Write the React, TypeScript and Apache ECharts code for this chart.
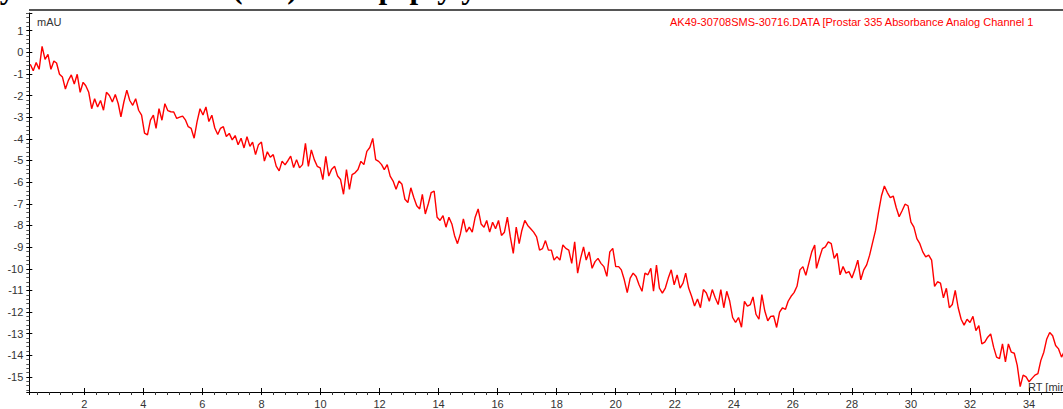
import React, { useEffect, useRef } from "react";
import * as echarts from "echarts";

// Retention time [min] of each read sample
const retentionTime = [
  0.17, 0.27, 0.37, 0.47, 0.57, 0.67, 0.77, 0.87,
  0.97, 1.06, 1.16, 1.26, 1.36, 1.46, 1.56, 1.66, 1.76, 1.86,
  1.96, 2.05, 2.15, 2.25, 2.35, 2.45, 2.55, 2.65, 2.75, 2.85,
  2.95, 3.05, 3.15, 3.24, 3.34, 3.44, 3.54, 3.64, 3.74, 3.84,
  3.94, 4.04, 4.14, 4.24, 4.34, 4.43, 4.53, 4.63, 4.73, 4.83,
  4.93, 5.03, 5.13, 5.23, 5.33, 5.43, 5.52, 5.62, 5.72, 5.82,
  5.92, 6.02, 6.12, 6.22, 6.32, 6.42, 6.52, 6.61, 6.71, 6.81,
  6.91, 7.01, 7.11, 7.21, 7.31, 7.41, 7.51, 7.61, 7.7, 7.8,
  7.9, 8.0, 8.1, 8.2, 8.3, 8.4, 8.5, 8.6, 8.7, 8.8,
  8.9, 8.99, 9.09, 9.19, 9.29, 9.39, 9.49, 9.59, 9.69, 9.79,
  9.89, 9.99, 10.08, 10.18, 10.28, 10.38, 10.48, 10.58, 10.68, 10.78,
  10.88, 10.98, 11.07, 11.17, 11.27, 11.37, 11.47, 11.57, 11.67, 11.77,
  11.87, 11.97, 12.07, 12.16, 12.26, 12.36, 12.46, 12.56, 12.66, 12.76,
  12.86, 12.96, 13.06, 13.16, 13.26, 13.36, 13.45, 13.55, 13.65, 13.75,
  13.85, 13.95, 14.05, 14.15, 14.25, 14.35, 14.45, 14.54, 14.64, 14.74,
  14.84, 14.94, 15.04, 15.14, 15.24, 15.34, 15.44, 15.54, 15.63, 15.73,
  15.83, 15.93, 16.03, 16.13, 16.23, 16.33, 16.43, 16.53, 16.63, 16.73,
  16.82, 16.92, 17.02, 17.12, 17.22, 17.32, 17.42, 17.52, 17.62, 17.72,
  17.82, 17.91, 18.01, 18.11, 18.21, 18.31, 18.41, 18.51, 18.61, 18.71,
  18.81, 18.91, 19.0, 19.1, 19.2, 19.3, 19.4, 19.5, 19.6, 19.7,
  19.8, 19.9, 20.0, 20.1, 20.19, 20.29, 20.39, 20.49, 20.59, 20.69,
  20.79, 20.89, 20.99, 21.09, 21.19, 21.28, 21.38, 21.48, 21.58, 21.68,
  21.78, 21.88, 21.98, 22.08, 22.18, 22.28, 22.37, 22.47, 22.57, 22.67,
  22.77, 22.87, 22.97, 23.07, 23.17, 23.27, 23.37, 23.47, 23.56, 23.66,
  23.76, 23.86, 23.96, 24.06, 24.16, 24.26, 24.36, 24.46, 24.56, 24.65,
  24.75, 24.85, 24.95, 25.05, 25.15, 25.25, 25.35, 25.45, 25.55, 25.65,
  25.75, 25.84, 25.94, 26.04, 26.14, 26.24, 26.34, 26.44, 26.54, 26.64,
  26.74,
  26.8, 26.9, 27.0, 27.1, 27.2, 27.3, 27.4, 27.5, 27.6, 27.7,
  27.8, 27.9, 28.0, 28.1, 28.2, 28.3, 28.4, 28.5, 28.6, 28.7,
  28.8, 28.9, 29.0, 29.1, 29.2, 29.3, 29.4, 29.5, 29.6, 29.7,
  29.8, 29.9, 30.0, 30.1, 30.2, 30.3, 30.4, 30.5, 30.6, 30.7,
  30.8, 30.9, 31.0, 31.1, 31.2, 31.3, 31.4, 31.5, 31.6, 31.7,
  31.8, 31.9, 32.0, 32.1, 32.2, 32.3, 32.4, 32.5, 32.6, 32.7,
  32.8, 32.9, 33.0, 33.1, 33.2, 33.3, 33.4, 33.5, 33.6, 33.7,
  33.8, 33.9, 34.0, 34.1, 34.2, 34.3, 34.4, 34.5, 34.6, 34.7,
  34.8, 34.9, 35.0, 35.1, 35.2,
];

// Absorbance [mAU] read at each retention time
const absorbance = [
  -0.56, -0.86, -0.48, -0.79, 0.27, -0.33, -0.1, -0.79,
  -0.41, -0.5, -1.02, -1.15, -1.7, -1.3, -1.05, -1.47, -1.02, -1.85,
  -1.39, -1.55, -1.85, -2.61, -2.15, -2.53, -2.23, -2.68, -1.85, -2.0,
  -2.3, -1.95, -2.38, -2.98, -2.3, -1.75, -2.23, -2.45, -2.15, -2.68,
  -2.91, -3.74, -3.82, -3.14, -2.91, -3.52, -2.61, -3.14, -2.38, -2.7,
  -2.75, -2.76, -3.06, -3.0, -2.95, -3.14, -3.44, -3.52, -3.97, -3.21,
  -2.61, -2.9, -2.53, -3.2, -2.91, -3.5, -3.8, -3.52, -3.44, -3.89,
  -3.75, -4.05, -3.85, -4.27, -3.97, -4.42, -3.9, -4.35, -4.15, -4.73,
  -4.27, -4.15, -5.03, -4.6, -4.85, -4.73, -5.26, -5.48, -5.03, -5.2,
  -5.0, -4.8, -5.33, -4.96, -5.34, -5.19, -4.21, -5.27, -4.51, -4.96,
  -5.27, -5.34, -5.88, -4.81, -5.72, -5.4, -5.27, -5.72, -5.88, -6.56,
  -5.42, -6.33, -5.65, -5.57, -5.42, -5.04, -5.19, -4.58, -4.4, -3.98,
  -4.96, -5.04, -5.19, -5.42, -5.19, -5.72, -5.95, -6.33, -5.95, -6.1,
  -6.79, -6.94, -6.26, -6.71, -7.09, -7.24, -6.56, -7.47, -7.01, -6.48,
  -6.41, -7.62, -7.77, -7.55, -8.08, -7.62, -7.93, -8.46, -8.84, -8.38,
  -7.7, -8.31, -8.08, -8.31, -7.62, -7.24, -7.93, -8.08, -7.77, -8.31,
  -7.85, -8.15, -7.77, -8.46, -8.31, -7.62, -8.53, -9.29, -8.08, -8.84,
  -8.23, -7.77, -8.0, -8.15, -8.31, -8.53, -9.14, -9.07, -8.7, -9.14,
  -9.14, -9.6, -9.44, -9.6, -8.9, -9.06, -9.14, -9.75, -8.76, -10.2,
  -9.52, -8.99, -9.6, -9.22, -9.98, -9.67, -9.52, -9.75, -9.9, -10.35,
  -9.22, -9.06, -9.9, -9.9, -10.05, -10.51, -11.1, -10.43, -10.2, -10.36,
  -10.74, -11.04, -10.2, -10.28, -9.98, -11.04, -9.83, -10.89, -11.12, -10.89,
  -10.43, -10.05, -10.74, -10.28, -10.89, -10.66, -10.2, -10.89, -11.27, -11.72,
  -11.4, -11.8, -10.96, -11.12, -11.5, -10.96, -11.34, -11.65, -10.96, -11.8,
  -11.04, -11.49, -12.25, -12.48, -12.25, -12.7, -11.5, -11.72, -11.65, -11.3,
  -12.1, -12.33, -11.19, -11.95, -12.4, -12.2, -12.18, -12.71, -12.0, -11.8,
  -11.87, -11.5, -11.27, -11.1, -10.81, -10.05, -9.9, -10.3, -9.75, -9.22,
  -8.9,
  -9.98, -9.5, -9.07, -8.99, -8.76, -8.84, -9.52, -9.29, -10.28, -9.9,
  -10.2, -10.13, -10.43, -10.05, -9.6, -10.51, -10.05, -9.82, -9.37, -8.79,
  -8.23, -7.4, -6.64, -6.18, -6.48, -6.71, -6.64, -7.17, -7.6, -7.32,
  -7.02, -7.09, -7.85, -8.08, -8.61, -8.84, -9.22, -9.45, -9.37, -9.6,
  -10.81, -10.6, -10.66, -11.34, -10.9, -11.8, -11.65, -11.0, -11.8, -12.33,
  -12.6, -12.33, -12.48, -12.2, -12.86, -12.63, -13.47, -13.39, -13.16, -13.01,
  -13.62, -14.08, -14.15, -13.47, -14.3, -13.47, -13.85, -13.9, -14.46, -15.44,
  -14.91, -14.99, -15.22, -15.06, -14.91, -14.84, -14.23, -13.85, -13.24, -12.94,
  -13.09, -13.54, -13.7, -14.08, -13.8,
];

const xRange = [0.137, 35.15];
const yRange = [-15.69, 1.81];
const yUnitLabel = "mAU";
const xUnitLabel = "RT [min]";
const traceLabel = "AK49-30708SMS-30716.DATA [Prostar 335 Absorbance Analog Channel 1";
const titleText = "Analysis of the HPLC (UV) of Isopeptylysines";

const FONT = "'Liberation Sans', Arial, sans-serif";

export default function App() {
  const ref = useRef<HTMLDivElement>(null);

  useEffect(() => {
    document.body.style.margin = "0";
    const chart = echarts.init(ref.current!, null, { renderer: "svg" });
    const n = Math.min(retentionTime.length, absorbance.length);
    const data: [number, number][] = [];
    for (let i = 0; i < n; i++) data.push([retentionTime[i], absorbance[i]]);

    const intLabel = (v: number) =>
      Math.abs(v - Math.round(v)) < 1e-6 ? String(Math.round(v)) : "";

    const baseX = {
      type: "value" as const,
      min: xRange[0],
      max: xRange[1],
      splitNumber: 17,
      position: "bottom" as const,
      splitLine: { show: false },
    };
    const baseY = {
      type: "value" as const,
      min: yRange[0],
      max: yRange[1],
      splitNumber: 17,
      position: "left" as const,
      splitLine: { show: false },
    };

    chart.setOption({
      animation: false,
      backgroundColor: "#ffffff",
      grid: { left: 29.3, right: 0, top: 13, bottom: 12, containLabel: false },
      xAxis: [
        {
          ...baseX,
          axisLine: { show: true, onZero: false, lineStyle: { color: "#000", width: 1 } },
          axisTick: { show: true, inside: false, length: 3, lineStyle: { color: "#000" } },
          minorTick: { show: true, splitNumber: 5, length: 3, lineStyle: { color: "#333" } },
          axisLabel: {
            formatter: intLabel,
            fontSize: 11,
            color: "#333",
            margin: 6,
            fontFamily: FONT,
            showMinLabel: false,
            showMaxLabel: false,
          },
        },
        {
          ...baseX,
          axisLine: { show: false, onZero: false },
          axisTick: { show: true, inside: true, length: 4, lineStyle: { color: "#000" } },
          minorTick: { show: false },
          axisLabel: { show: false },
        },
      ],
      yAxis: [
        {
          ...baseY,
          axisLine: { show: true, onZero: false, lineStyle: { color: "#000", width: 1 } },
          axisTick: { show: true, inside: false, length: 3, lineStyle: { color: "#000" } },
          minorTick: { show: true, splitNumber: 5, length: 3, lineStyle: { color: "#555" } },
          axisLabel: {
            formatter: intLabel,
            fontSize: 11,
            color: "#333",
            margin: 6,
            fontFamily: FONT,
            showMinLabel: false,
            showMaxLabel: false,
          },
        },
        {
          ...baseY,
          axisLine: { show: false, onZero: false },
          axisTick: { show: true, inside: true, length: 3, lineStyle: { color: "#000" } },
          minorTick: { show: false },
          axisLabel: { show: false },
        },
      ],
      series: [
        {
          type: "line",
          xAxisIndex: 0,
          yAxisIndex: 0,
          data,
          showSymbol: false,
          symbol: "none",
          clip: true,
          lineStyle: { color: "#ff0000", width: 1.4 },
          emphasis: { disabled: true },
        },
      ],
      graphic: [
        {
          type: "line",
          shape: { x1: 29, y1: 10, x2: 1063, y2: 10 },
          style: { stroke: "#555", lineWidth: 2 },
          silent: true,
        },
        {
          type: "text",
          x: -64,
          y: -13,
          style: {
            text: titleText,
            fill: "#000",
            fontSize: 31,
            fontWeight: "bold",
            fontFamily: "'Liberation Serif', 'Times New Roman', serif",
            verticalAlign: "middle",
            align: "left",
          },
          silent: true,
        },
        {
          type: "text",
          x: 37,
          y: 21.5,
          style: {
            text: yUnitLabel,
            fill: "#333",
            fontSize: 11,
            fontFamily: FONT,
            verticalAlign: "middle",
            align: "left",
          },
          silent: true,
        },
        {
          type: "text",
          x: 670,
          y: 21.5,
          style: {
            text: traceLabel,
            fill: "#ff0000",
            fontSize: 11,
            fontFamily: FONT,
            verticalAlign: "middle",
            align: "left",
          },
          silent: true,
        },
        {
          type: "text",
          x: 1028,
          y: 387,
          style: {
            text: xUnitLabel,
            fill: "#333",
            fontSize: 11,
            fontFamily: FONT,
            verticalAlign: "middle",
            align: "left",
          },
          silent: true,
        },
      ],
    });

    return () => chart.dispose();
  }, []);

  return (
    <div
      ref={ref}
      style={{ position: "absolute", left: 0, top: 0, width: 1063, height: 409 }}
    />
  );
}
